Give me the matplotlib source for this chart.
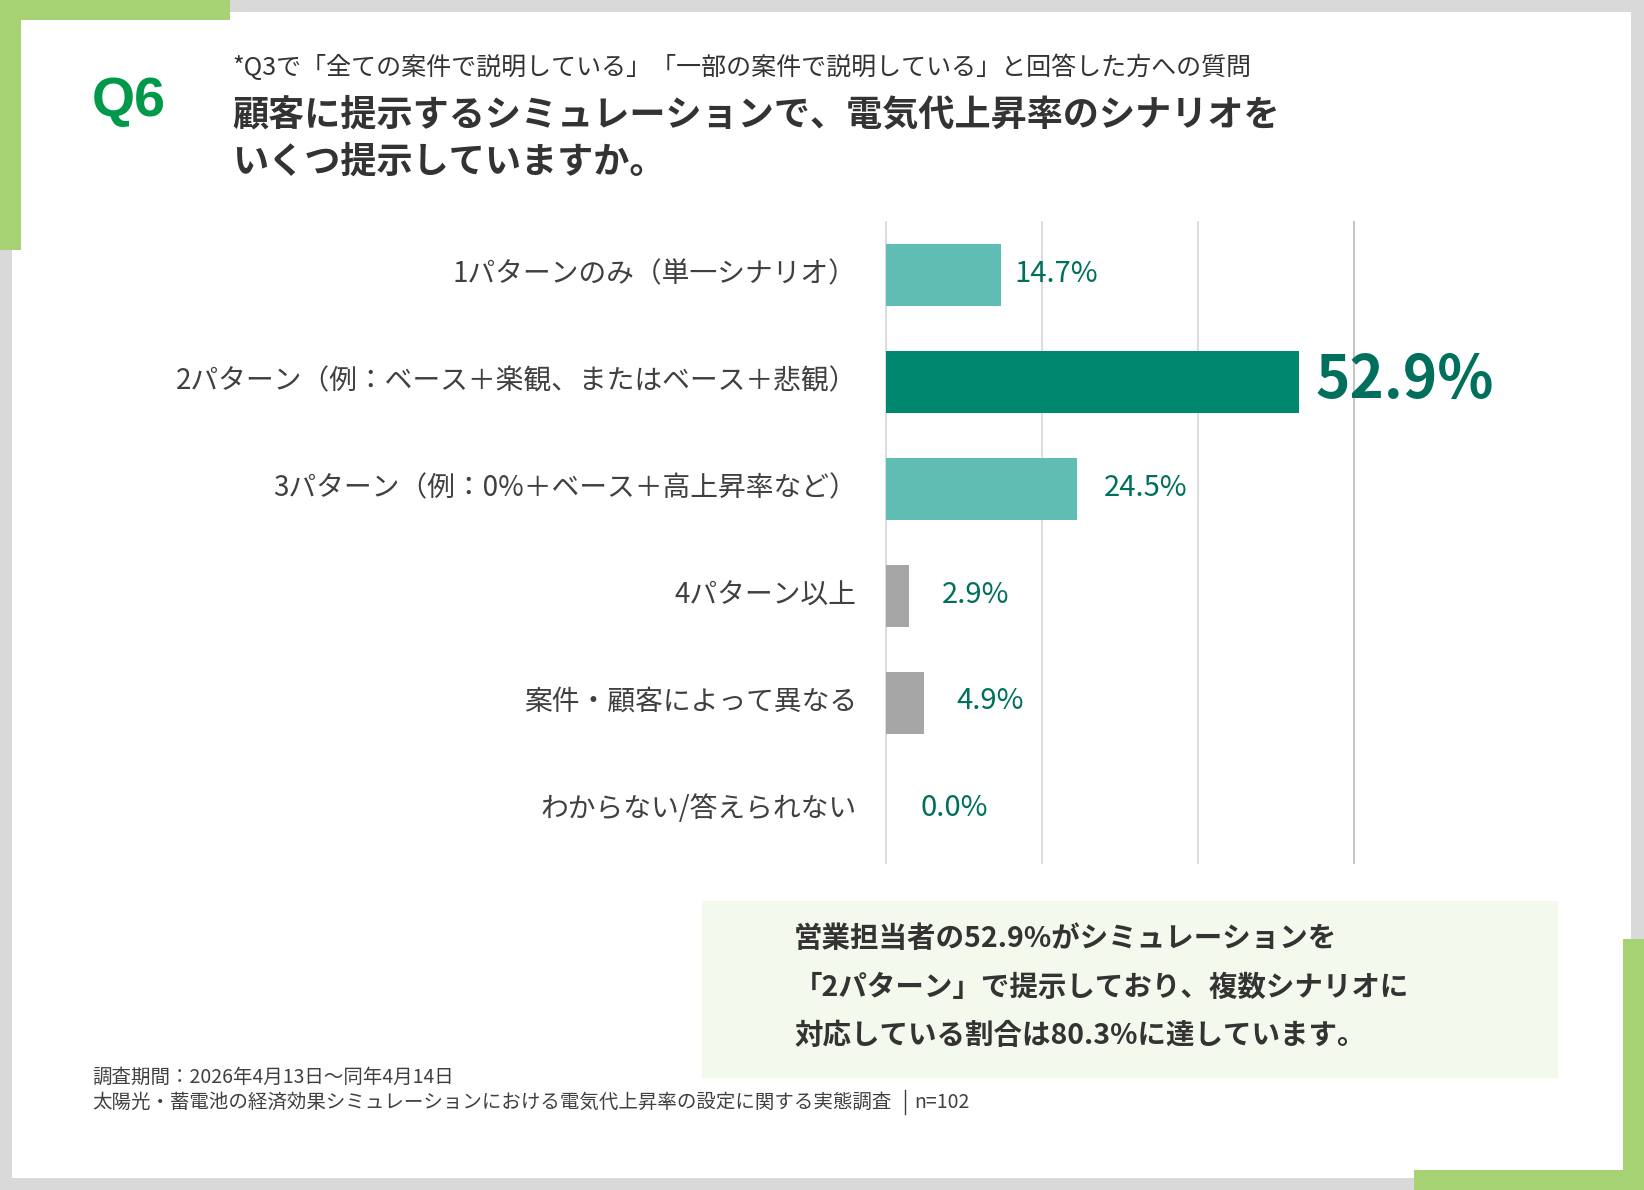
import matplotlib
matplotlib.use("Agg")
import matplotlib.pyplot as plt
from matplotlib.patches import Rectangle
from matplotlib.transforms import ScaledTranslation

plt.rcParams['font.family'] = ['Noto Sans CJK JP', 'DejaVu Sans']

############## - data - ##############
categories = [
    "1パターンのみ（単一シナリオ）",
    "2パターン（例：ベース＋楽観、またはベース＋悲観）",
    "3パターン（例：0%＋ベース＋高上昇率など）",
    "4パターン以上",
    "案件・顧客によって異なる",
    "わからない/答えられない",
]
values = [14.7, 52.9, 24.5, 2.9, 4.9, 0.0]
value_labels = ["14.7%", "52.9%", "24.5%", "2.9%", "4.9%", "0.0%"]
x_ticks = [0, 20, 40, 60]

subtitle = "*Q3で「全ての案件で説明している」「一部の案件で説明している」と回答した方への質問"
title_lines = ["顧客に提示するシミュレーションで、電気代上昇率のシナリオを",
               "いくつ提示していますか。"]
callout_lines = ["営業担当者の52.9%がシミュレーションを",
                 "「2パターン」で提示しており、複数シナリオに",
                 "対応している割合は80.3%に達しています。"]
footer_period = "調査期間：2026年4月13日～同年4月14日"
footer_survey = "太陽光・蓄電池の経済効果シミュレーションにおける電気代上昇率の設定に関する実態調査"
footer_n = "n=102"

############## - styles - ##############
bar_colors = ['#5fbdb3', '#00876f', '#5fbdb3', '#a6a6a6', '#a6a6a6', '#a6a6a6']
label_offsets = [10, 12, 19, 24, 23, 25]   # points from bar end
label_sizes = [21, 42, 21, 21, 21, 21]
label_weights = ['normal', 'bold', 'normal', 'normal', 'normal', 'normal']
green_frame = '#a6d274'
gray_frame = '#d9d9d9'
text_dark = '#333333'
label_green = '#00705c'

W, H = 1644, 1190
fig = plt.figure(figsize=(W / 100, H / 100), dpi=100)
fig.patch.set_facecolor(gray_frame)


def rect(x0, y0, x1, y1, color, z=0):
    # rectangle in pixel coords measured from the top-left corner
    fig.patches.append(Rectangle((x0 / W, 1 - y1 / H), (x1 - x0) / W, (y1 - y0) / H,
                                 transform=fig.transFigure, color=color, zorder=z, lw=0))


def ftext(x, y, s, **kw):
    fig.text(x / W, 1 - y / H, s, **kw)


# frame
rect(12, 12, 1631, 1178, 'white', -3)
rect(0, 0, 230, 20, green_frame, -2)
rect(0, 0, 21, 250, green_frame, -2)
rect(1623, 939, 1644, 1190, green_frame, -2)
rect(1414, 1170, 1644, 1190, green_frame, -2)
# callout box
rect(702, 901, 1558, 1078, '#f4f9ee', -2)

# header
ftext(92, 102, "Q6", family=['Liberation Sans', 'DejaVu Sans'], fontsize=40,
      fontweight='bold', color='#00994a', va='center', ha='left')
ftext(232, 68, subtitle, fontsize=18, color=text_dark, va='center', ha='left')
ftext(232, 115, title_lines[0], fontsize=26, fontweight='bold', color=text_dark,
      va='center', ha='left')
ftext(232, 162, title_lines[1], fontsize=26, fontweight='bold', color=text_dark,
      va='center', ha='left')

# callout text
for i, line in enumerate(callout_lines):
    ftext(794, 939 + 48.5 * i, line, fontsize=20.5, fontweight='bold', color=text_dark,
          va='center', ha='left')

# footer
ftext(92, 1077, footer_period, fontsize=14, color='#404040', va='center', ha='left')
ftext(92, 1102, footer_survey, fontsize=14, color='#404040', va='center', ha='left')
fig.lines.append(plt.Line2D([905 / W, 905 / W], [1 - 1090 / H, 1 - 1114 / H],
                            transform=fig.transFigure, color='#404040', lw=1))
ftext(914, 1102, footer_n, fontsize=14, color='#404040', va='center', ha='left')

############## - chart - ##############
ax = fig.add_axes([886 / W, 1 - 863 / H, (1354 - 886) / W, (863 - 222) / H])
ax.set_zorder(5)
ax.set_facecolor('none')
y = list(range(len(categories)))
ax.barh(y, values, height=0.58, color=bar_colors, zorder=3)
ax.set_xlim(0, 60)
ax.set_ylim(5.5, -0.5)
ax.set_xticks(x_ticks)
ax.set_xticklabels([])
ax.set_yticks(y)
ax.set_yticklabels(categories, fontsize=20, color='#404040')
ax.tick_params(axis='both', length=0)
ax.tick_params(axis='y', pad=21)
ax.grid(axis='x', color='#d9d9d9', lw=1.3, zorder=0)
for gl in ax.get_xgridlines():
    gl.set_clip_on(False)
ax.get_xgridlines()[-1].set_color('#bfbfbf')
for s in ax.spines.values():
    s.set_visible(False)

# nudge category labels up a little
shift = ScaledTranslation(0, 3 / 72, fig.dpi_scale_trans)
for lab in ax.get_yticklabels():
    lab.set_transform(lab.get_transform() + shift)

for i, v in enumerate(values):
    ax.annotate(value_labels[i], xy=(v, i), xytext=(label_offsets[i], 1),
                textcoords='offset points', ha='left', va='center',
                fontsize=label_sizes[i], fontweight=label_weights[i], color=label_green)

fig.savefig('out.png', dpi=100, facecolor=fig.get_facecolor())
